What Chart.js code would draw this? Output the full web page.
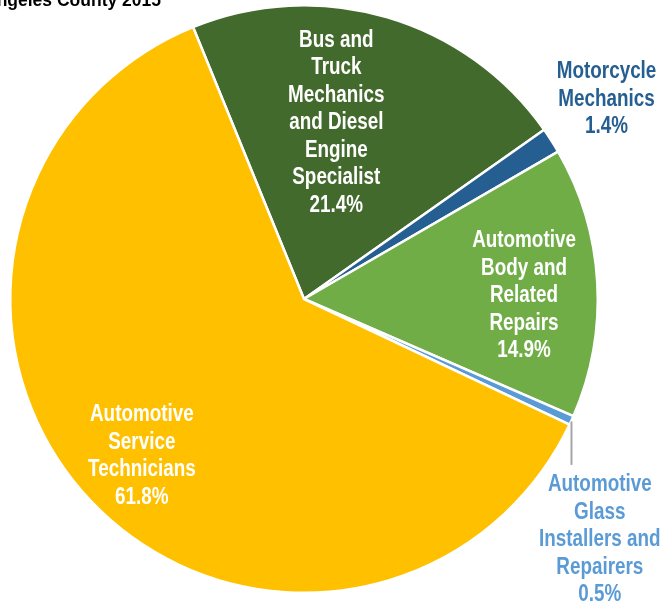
<!DOCTYPE html>
<html>
<head>
<meta charset="utf-8">
<script src="https://cdn.jsdelivr.net/npm/chart.js@4/dist/chart.umd.min.js"></script>
<style>
  html, body { margin: 0; padding: 0; background: #fff; }
  #wrap { position: relative; width: 665px; height: 608px; overflow: hidden; }
</style>
</head>
<body>
<div id="wrap"><canvas id="pie" width="665" height="608"></canvas></div>
<script>
const occupations = [
  ['Bus and', 'Truck', 'Mechanics', 'and Diesel', 'Engine', 'Specialist'],
  ['Motorcycle', 'Mechanics'],
  ['Automotive', 'Body and', 'Related', 'Repairs'],
  ['Automotive', 'Glass', 'Installers and', 'Repairers'],
  ['Automotive', 'Service', 'Technicians']
];
const shares = [21.4, 1.4, 14.9, 0.5, 61.8];
const sliceColors = ['#436A2D', '#255E91', '#70AD47', '#5B9BD5', '#FFC000'];
const labelColors = ['#ffffff', '#255E91', '#ffffff', '#5B9BD5', '#ffffff'];
const titleText = 'Los Angeles County 2015';

// where each label block sits, as multiples of the pie radius from its centre
const labelSpots = [[0.11, -0.6], [1.03, -0.68], [0.749, -0.01], [1.007, 0.82], [-0.552, 0.535]];

const fontFamily = "'Liberation Sans Narrow', 'Arial Narrow', 'Liberation Sans', Arial, sans-serif";
const squeeze = 0.82; // narrow face is not installed, so compress the regular one
const lineGap = 27.5;

function narrowText(ctx, text, x, y) {
  ctx.save();
  ctx.translate(x, y);
  ctx.scale(squeeze, 1);
  ctx.fillText(text, 0, 0);
  ctx.restore();
}

const pieLabels = {
  id: 'pieLabels',
  afterDatasetsDraw(chart) {
    const ctx = chart.ctx;
    const arcs = chart.getDatasetMeta(0).data;
    ctx.save();
    ctx.font = 'bold 23px ' + fontFamily;
    ctx.textAlign = 'center';
    ctx.textBaseline = 'middle';
    arcs.forEach((arc, i) => {
      const r = arc.outerRadius;
      const lines = occupations[i].concat(shares[i].toFixed(1) + '%');
      const cx = arc.x + labelSpots[i][0] * r;
      const cy = arc.y + labelSpots[i][1] * r;
      const top = cy - (lines.length - 1) * lineGap / 2;

      // leader line for the thin glass slice
      if (i === 3) {
        const mid = (arc.startAngle + arc.endAngle) / 2;
        const x0 = arc.x + Math.cos(mid) * r;
        const y0 = arc.y + Math.sin(mid) * r;
        ctx.strokeStyle = '#A6A6A6';
        ctx.lineWidth = 2;
        ctx.beginPath();
        ctx.moveTo(x0, y0 + 1);
        ctx.lineTo(x0, top - 20);
        ctx.stroke();
      }

      ctx.fillStyle = labelColors[i];
      lines.forEach((t, k) => narrowText(ctx, t, cx, top + k * lineGap));
    });

    // chart title, running off the left edge
    ctx.font = "bold 17.5px 'Liberation Sans', Arial, sans-serif";
    ctx.textAlign = 'right';
    ctx.textBaseline = 'alphabetic';
    ctx.fillStyle = '#000000';
    ctx.fillText(titleText, 161, 6);
    ctx.restore();
  }
};

new Chart(document.getElementById('pie'), {
  type: 'pie',
  data: {
    labels: occupations.map((l) => l.join(' ')),
    datasets: [{
      data: shares,
      backgroundColor: sliceColors,
      borderColor: '#ffffff',
      borderWidth: 2.5
    }]
  },
  options: {
    responsive: false,
    animation: false,
    rotation: -22.2,
    layout: { padding: { left: 9, right: 66, top: 4, bottom: 14 } },
    plugins: {
      legend: { display: false },
      tooltip: { enabled: false },
      title: { display: false }
    }
  },
  plugins: [pieLabels]
});
</script>
</body>
</html>
